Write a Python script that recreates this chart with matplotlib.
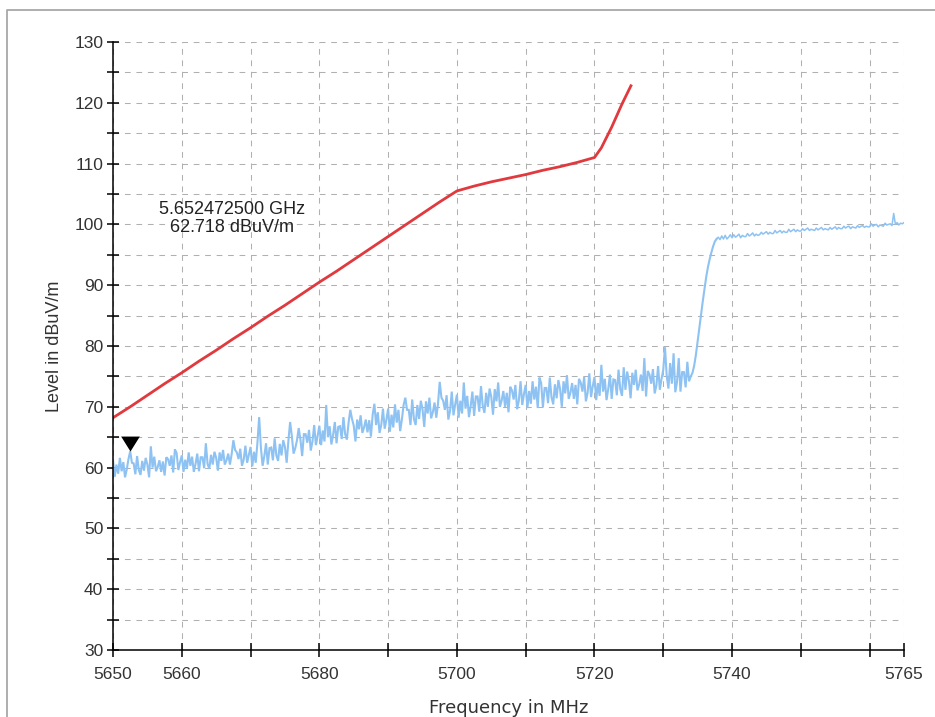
import numpy as np
import matplotlib
matplotlib.use("Agg")
import matplotlib.pyplot as plt
from matplotlib.lines import Line2D

# ---------------- data ----------------
x_ticks = [5650, 5660, 5670, 5680, 5690, 5700, 5710, 5720, 5730, 5740, 5750, 5760, 5765]
x_tick_labels = ["5650", "5660", "", "5680", "", "5700", "", "5720", "", "5740", "", "", "5765"]
y_ticks = [30, 35, 40, 45, 50, 55, 60, 65, 70, 75, 80, 85, 90, 95, 100, 105, 110, 115, 120, 125, 130]
y_tick_labels = ["30", "", "40", "", "50", "", "60", "", "70", "", "80", "", "90", "", "100", "", "110", "", "120", "", "130"]

# Limit line (red)
limit_freq = [5650, 5652.5, 5655, 5657.5, 5660, 5662.5, 5665, 5667.5, 5670, 5672.5, 5675, 5677.5,
              5680, 5682.5, 5685, 5687.5, 5690, 5692.5, 5695, 5697.5, 5700, 5702.5, 5705, 5707.5,
              5710, 5712.5, 5715, 5717.5, 5720, 5721, 5722.5, 5724, 5725.3]
limit_level = [68.2, 70.0, 71.9, 73.8, 75.6, 77.5, 79.3, 81.2, 83.0, 84.9, 86.7, 88.6,
               90.5, 92.3, 94.2, 96.1, 98.0, 99.9, 101.8, 103.7, 105.5, 106.3, 107.0, 107.6,
               108.2, 108.9, 109.5, 110.2, 111.0, 112.6, 116.0, 119.8, 122.8]

# Measured spectrum (light blue), 0.25 MHz sweep from 5650 to 5765 MHz
trace_start = 5650.0
trace_stop = 5765.0
trace_level = [
    # 5650 - 5660
    61.2, 58.5, 60.5, 59.0, 61.6, 59.4, 60.9, 58.4, 59.7, 61.4, 62.7, 60.8, 60.7, 58.9, 61.9, 59.6,
    58.8, 61.1, 59.5, 61.6, 60.5, 58.4, 63.5, 60.0, 61.8, 59.4, 60.1, 61.2, 59.3, 61.0, 58.7, 61.7,
    61.4, 60.3, 62.0, 59.2, 63.0, 62.4, 59.6, 60.9,
    # 5660 - 5670
    62.0, 59.3, 61.3, 59.8, 62.5, 60.3, 61.8, 59.3, 60.6, 62.3, 59.4, 61.7, 61.7, 59.9, 64.0, 60.6,
    59.8, 62.1, 60.5, 62.6, 61.6, 59.5, 62.5, 61.1, 62.9, 60.5, 61.2, 62.3, 60.5, 62.2, 64.5, 62.9,
    62.5, 61.4, 63.1, 60.3, 61.3, 63.6, 60.8, 62.1,
    # 5670 - 5680
    63.4, 60.2, 62.6, 60.8, 64.1, 68.3, 63.3, 60.3, 61.9, 64.0, 60.5, 63.2, 63.3, 61.2, 64.8, 62.0,
    61.1, 63.9, 62.0, 64.5, 63.4, 60.8, 64.4, 67.5, 65.2, 62.3, 63.2, 64.5, 66.5, 64.6, 61.9, 65.5,
    65.5, 64.1, 66.2, 62.8, 64.3, 67.0, 63.7, 65.2,
    # 5680 - 5690
    66.9, 63.7, 66.1, 64.3, 70.3, 65.0, 66.8, 63.8, 65.4, 67.5, 64.0, 66.7, 66.8, 64.7, 68.3, 65.5,
    64.6, 67.4, 69.5, 68.0, 66.9, 64.3, 67.9, 66.3, 68.6, 65.7, 66.6, 67.9, 65.8, 67.8, 65.1, 68.7,
    70.5, 67.0, 69.1, 65.7, 67.0, 69.7, 66.4, 67.9,
    # 5690 - 5700
    69.7, 65.9, 68.7, 66.6, 70.4, 67.4, 69.5, 66.0, 67.9, 70.3, 71.5, 69.5, 69.5, 67.0, 71.2, 68.0,
    67.0, 70.3, 68.0, 71.0, 69.6, 66.7, 70.9, 68.9, 71.5, 68.1, 69.1, 70.7, 68.2, 70.5, 74.1, 71.5,
    71.0, 69.5, 71.9, 67.9, 69.3, 72.5, 68.6, 70.4,
    # 5700 - 5710
    72.0, 68.2, 71.0, 68.9, 74.0, 69.7, 71.8, 68.3, 70.1, 72.5, 68.5, 71.7, 71.7, 69.2, 73.4, 70.2,
    69.0, 72.3, 70.0, 73.0, 71.6, 68.7, 72.9, 70.9, 74.0, 70.0, 71.0, 72.6, 70.0, 72.3, 69.1, 73.3,
    72.7, 71.2, 73.6, 69.6, 71.0, 74.2, 70.3, 72.1,
    # 5710 - 5720
    73.6, 69.8, 72.6, 70.5, 74.2, 71.2, 73.3, 69.8, 74.8, 73.9, 69.9, 73.1, 73.1, 70.6, 74.8, 71.6,
    70.4, 73.7, 71.4, 74.4, 72.9, 70.0, 74.2, 72.2, 75.2, 71.3, 72.3, 73.9, 71.3, 73.6, 70.4, 74.6,
    74.0, 72.5, 74.9, 70.9, 72.3, 75.5, 71.6, 73.4,
    # 5720 - 5730
    74.9, 71.1, 73.9, 71.8, 76.9, 72.5, 74.6, 71.1, 72.9, 75.3, 71.3, 74.5, 74.4, 71.9, 76.1, 72.9,
    71.8, 76.5, 72.8, 75.8, 74.3, 71.4, 75.6, 73.6, 76.1, 72.7, 73.7, 75.3, 72.6, 78.0, 71.7, 75.9,
    75.3, 73.8, 76.2, 72.2, 73.5, 76.7, 72.8, 74.6,
    # 5730 - 5738 (noise, then the step)
    76.1, 79.8, 75.1, 73.0, 77.2, 73.8, 78.8, 72.4, 74.1, 78.0, 72.5, 75.7, 75.7, 73.2, 77.4, 74.2,
    75.0, 75.6, 76.8, 78.6, 80.8, 83.0, 85.2, 87.4, 89.4, 91.4, 93.0, 94.3, 95.4, 96.4, 97.2, 97.6,
    # 5738 - 5765 (plateau)
    97.9, 97.5, 98.1, 97.6, 98.2, 97.6, 97.9, 98.3,
    97.8, 98.3, 97.9, 98.1, 98.4, 97.8, 98.2, 98.0, 98.0, 98.5, 98.1, 98.3, 98.6, 98.1, 98.4, 98.2,
    98.3, 98.7, 98.4, 98.6, 98.8, 98.4, 98.7, 98.5, 98.5, 99.0, 98.6, 98.8, 99.0, 98.6, 98.9, 98.7,
    98.7, 99.2, 98.8, 99.0, 99.2, 98.8, 99.1, 98.9,
    98.9, 99.3, 99.0, 99.2, 99.4, 99.0, 99.2, 99.1, 99.0, 99.4, 99.1, 99.3, 99.5, 99.1, 99.3, 99.2,
    99.1, 99.5, 99.2, 99.4, 99.6, 99.2, 99.5, 99.3, 99.3, 99.7, 99.4, 99.6, 99.7, 99.3, 99.6, 99.5,
    99.4, 99.8, 99.5, 99.7, 99.8, 99.5, 99.7, 99.6,
    99.6, 100.1, 99.7, 99.9, 100.0, 99.6, 99.9, 99.8, 99.7, 100.2, 99.9, 100.0, 100.1, 99.8, 101.8, 100.0,
    100.3, 99.9, 100.2, 100.1, 100.3,
]
trace_freq = np.linspace(trace_start, trace_stop, len(trace_level))
step_end_freq = 5737.75

marker_freq = 5652.4725
marker_level = 62.718
marker_text = "5.652472500 GHz\n62.718 dBuV/m"

# ---------------- figure ----------------
W, H = 935, 717
fig = plt.figure(figsize=(W / 100, H / 100), dpi=100)
fig.patch.set_facecolor("white")

# outer frame of the screenshot
fig.add_artist(Line2D([7 / W, 7 / W, 1.0], [0.0, 1 - 10 / H, 1 - 10 / H],
                      transform=fig.transFigure, color="#a8a8a8", lw=1.3))

ax = fig.add_axes([113 / W, (H - 650) / H, (904 - 113) / W, (650 - 42) / H])
ax.set_xlim(5650, 5765)
ax.set_ylim(30, 130)

for s in ["top", "right"]:
    ax.spines[s].set_visible(False)
for s in ["left", "bottom"]:
    ax.spines[s].set_color("black")
    ax.spines[s].set_linewidth(1.1)
    ax.spines[s].set_zorder(5)

ax.set_xticks(x_ticks)
ax.set_xticklabels(x_tick_labels, fontfamily="Liberation Sans", fontsize=12.5)
ax.set_yticks(y_ticks)
ax.set_yticklabels(y_tick_labels, fontfamily="Liberation Sans", fontsize=12.5)
ax.tick_params(axis="x", direction="inout", length=10, width=1.1, pad=7.5, colors="black")
ax.tick_params(axis="y", direction="inout", length=8, width=1.1, pad=3.0, colors="black")
for lbl in ax.get_xticklabels() + ax.get_yticklabels():
    lbl.set_color("#333333")

ax.grid(True, color="#b0b0b0", linestyle=(0, (5.5, 5.5)), linewidth=0.75)
ax.set_axisbelow(True)

idx = int(np.searchsorted(trace_freq, step_end_freq))
ax.plot(trace_freq[:idx + 1], trace_level[:idx + 1], color="#8ec2f2", lw=1.5, zorder=2,
        solid_joinstyle="miter")
ax.plot(trace_freq[idx:], trace_level[idx:], color="#8ec2f2", lw=1.1, zorder=2)
ax.plot(limit_freq, limit_level, color="#e0393e", lw=2.0, zorder=3, solid_joinstyle="round")

tri = [(-1.0, 1.6), (1.0, 1.6), (0.0, 0.0)]
ax.plot([marker_freq], [marker_level], marker=tri, markersize=21.5, color="black",
        markeredgewidth=0, linestyle="none", zorder=4)

ax.text(5667.3, 101.0, marker_text, ha="center", va="center", fontsize=13,
        fontfamily="Liberation Sans", color="#222222", linespacing=1.1)

ax.set_xlabel("Frequency in MHz", fontfamily="DejaVu Sans", fontsize=13, color="#333333", labelpad=12)
ax.set_ylabel("Level in dBuV/m", fontfamily="Liberation Sans", fontsize=13, color="#333333", labelpad=8)

fig.savefig("out.png", dpi=100, facecolor="white")
